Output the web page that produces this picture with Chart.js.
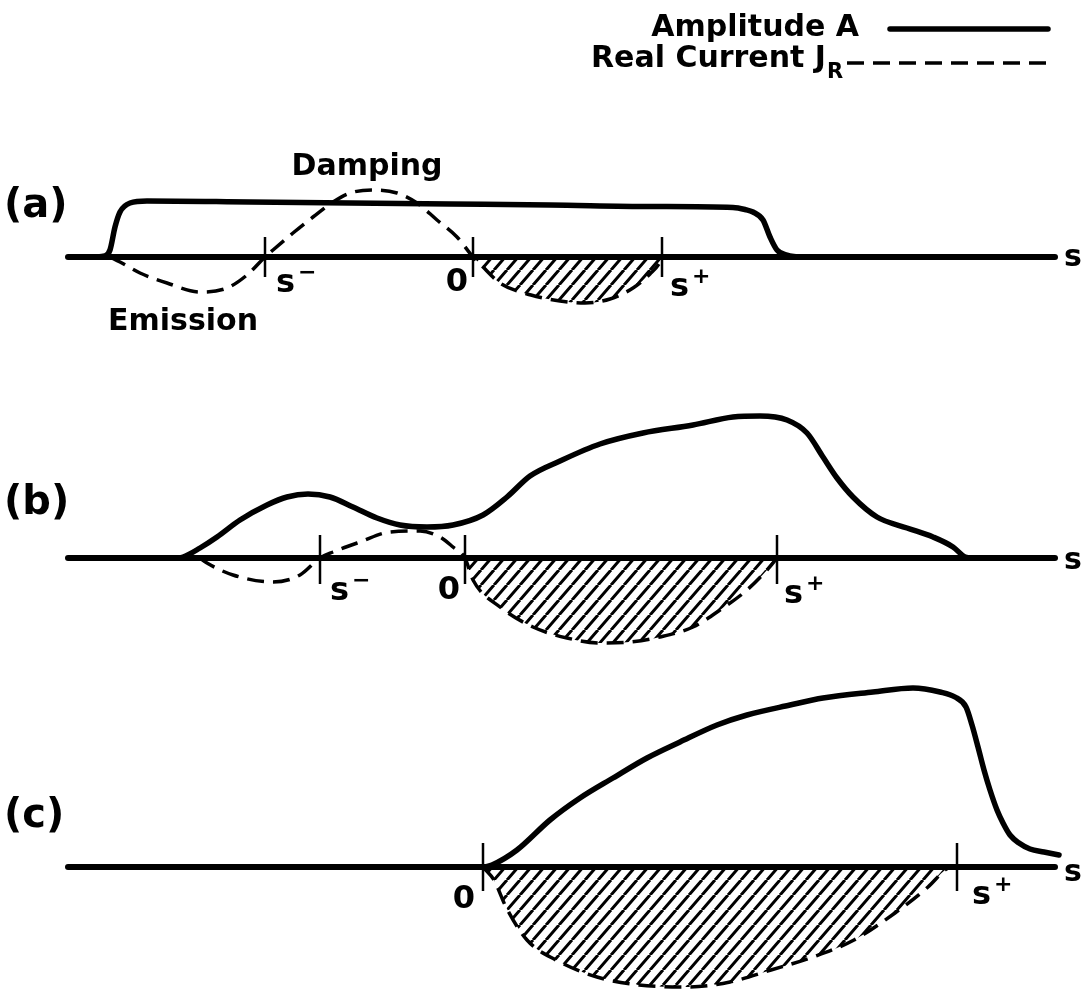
<!DOCTYPE html>
<html>
<head>
<meta charset="utf-8">
<script src="https://cdn.jsdelivr.net/npm/chart.js@4.4.0/dist/chart.umd.min.js"></script>
<style>
  html, body { margin: 0; padding: 0; background: #fff; }
  #figure { position: relative; width: 1089px; height: 989px; }
  #figure canvas { position: absolute; left: 0; }
</style>
</head>
<body>
<div id="figure">
  <canvas id="panel-a" width="1089" height="345" style="top:0px"></canvas>
  <canvas id="panel-b" width="1089" height="310" style="top:345px"></canvas>
  <canvas id="panel-c" width="1089" height="334" style="top:655px"></canvas>
</div>
<script>
// s axis extent (same for all three panels)
const axisStart = 68;
const axisEnd = 1055;

// (a) flat amplitude, current changes sign twice
const ampA_s = [95, 105, 110, 115, 120, 130, 147, 250, 350, 450, 550, 650, 733, 745, 753, 763, 770, 777, 787, 797];
const ampA   = [0, 1, 7, 30, 45, 54, 56, 55, 54, 53, 52, 50.5, 49.5, 47.5, 45, 37, 20, 7, 2, 0];
const curA_s = [110, 120, 140, 167, 200, 227, 247, 265, 273, 293, 313, 333, 350, 373, 397, 417, 437, 457, 473, 481, 500, 531, 560, 585, 610, 633, 650, 660, 662];
const curA   = [0, -5, -16, -26, -35, -31, -18, 0, 7, 24, 40, 55, 64, 67, 64, 54, 37, 20, 0, -8, -26, -38, -44, -46, -42, -31, -17, -5, 0];
const ticksA = [265, 473, 662];

// (b) amplitude grows on the emission side
const ampB_s = [175, 183, 200, 217, 240, 267, 287, 308, 330, 353, 377, 400, 427, 453, 483, 507, 530, 560, 600, 643, 693, 733, 760, 787, 807, 823, 837, 853, 877, 907, 933, 953, 965, 970];
const ampB   = [0, 1, 10, 21, 38, 53, 61, 64, 61, 51, 40, 33, 31, 33, 43, 61, 82, 97, 114, 125, 133, 141, 142, 138, 125, 101, 80, 61, 41, 30, 21, 11, 1, 0];
const curB_s = [200, 207, 233, 273, 300, 320, 333, 360, 390, 420, 440, 453, 465, 473, 500, 533, 567, 600, 630, 660, 693, 720, 747, 767, 777];
const curB   = [0, -5, -17, -24, -17, 0, 6, 16, 26, 27, 21, 11, 0, -22, -49, -69, -80, -85, -84, -79, -69, -52, -32, -12, 0];
const ticksB = [320, 465, 777];

// (c) only emission left
const ampC_s = [485, 492, 517, 550, 580, 613, 647, 680, 717, 747, 790, 823, 873, 913, 940, 955, 966, 972, 978, 984, 990, 997, 1003, 1010, 1019, 1030, 1044, 1059];
const ampC   = [0, 2, 17, 47, 69, 89, 109, 125, 142, 152, 162, 169, 175, 179, 175, 170, 160, 142, 120, 97, 77, 57, 44, 32, 24, 18, 15, 12];
const curC_s = [483, 494, 506, 527, 556, 597, 639, 688, 730, 771, 813, 854, 895, 928, 945, 950];
const curC   = [0, -13, -40, -73, -93, -110, -118, -120, -115, -103, -90, -73, -46, -20, -3, 0];
const ticksC = [483, 957];

const tickTextAB = [['s', '\u2212'], ['0', ''], ['s', '+']];
const tickTextC  = [['0', ''], ['s', '+']];

const INK = '#000';
const FONT = '"DejaVu Sans", sans-serif';

function pts(xs, ys) {
  return xs.map((v, i) => ({ x: v, y: ys[i] }));
}

// diagonal "////" fill for the damping lobe
function hatch(canvas) {
  const w = 13, h = 15;
  const tile = document.createElement('canvas');
  tile.width = w; tile.height = h;
  const g = tile.getContext('2d');
  g.strokeStyle = INK;
  g.lineWidth = 3;
  g.beginPath();
  for (const dx of [-w, 0, w]) { g.moveTo(dx, h); g.lineTo(dx + w, 0); }
  g.stroke();
  return canvas.getContext('2d').createPattern(tile, 'repeat');
}

function drawScript(ctx, base, sup, x, y, align) {
  ctx.textAlign = 'left';
  ctx.textBaseline = 'middle';
  ctx.font = 'bold 32px ' + FONT;
  const bw = ctx.measureText(base).width;
  ctx.font = 'bold 22px ' + FONT;
  const sw = sup ? ctx.measureText(sup).width + 3 : 0;
  const left = align === 'right' ? x - bw - sw : x;
  ctx.font = 'bold 32px ' + FONT;
  ctx.fillText(base, left, y);
  if (sup) {
    ctx.font = 'bold 22px ' + FONT;
    ctx.fillText(sup, left + bw + 3, y - 11);
  }
}

const panelText = {
  id: 'panelText',
  afterDatasetsDraw(chart, args, o) {
    const { ctx } = chart;
    const xs = chart.scales.x, ys = chart.scales.y;
    const y0 = ys.getPixelForValue(0);
    ctx.save();
    ctx.fillStyle = INK;

    ctx.font = 'bold 40px ' + FONT;
    ctx.textAlign = 'left';
    ctx.textBaseline = 'middle';
    ctx.fillText(o.letter, 4, y0 + o.letterDy);

    ctx.font = 'bold 30px ' + FONT;
    ctx.fillText('s', xs.getPixelForValue(axisEnd) + 9, y0 + o.axisDy);

    o.ticks.forEach((t, i) => {
      const [base, sup] = o.tickText[i];
      const [dx, dy, align] = o.tickPlace[i];
      drawScript(ctx, base, sup, xs.getPixelForValue(t) + dx, y0 + dy, align);
    });

    (o.notes || []).forEach(n => {
      ctx.font = 'bold 30px ' + FONT;
      ctx.textAlign = 'center';
      ctx.textBaseline = 'middle';
      ctx.fillText(n.text, xs.getPixelForValue(n.s), ys.getPixelForValue(n.v));
    });

    if (o.key) {
      ctx.font = 'bold 30px ' + FONT;
      ctx.textAlign = 'right';
      ctx.textBaseline = 'alphabetic';
      ctx.fillText('Amplitude A', 859, 36);
      ctx.fillText('Real Current J', 826, 67);
      ctx.font = 'bold 21px ' + FONT;
      ctx.textAlign = 'left';
      ctx.fillText('R', 827, 78);

      ctx.strokeStyle = INK;
      ctx.lineCap = 'round';
      ctx.lineWidth = 5.5;
      ctx.beginPath(); ctx.moveTo(890, 29); ctx.lineTo(1048, 29); ctx.stroke();
      ctx.lineWidth = 3.5;
      ctx.lineCap = 'butt';
      ctx.setLineDash([17, 9]);
      ctx.beginPath(); ctx.moveTo(847, 63); ctx.lineTo(1050, 63); ctx.stroke();
    }
    ctx.restore();
  }
};

function makePanel(id, cfg) {
  const canvas = document.getElementById(id);
  const zero = cfg.ticks[cfg.ticks.length - 2];
  const sPlus = cfg.ticks[cfg.ticks.length - 1];
  const cur = pts(cfg.curS, cfg.cur);
  const lobe = cur.filter(p => p.x >= zero && p.x <= sPlus);

  const datasets = [
    { data: lobe, borderWidth: 0, fill: 'origin', backgroundColor: hatch(canvas) },
    { data: cur, borderWidth: 3.5, borderDash: [17, 9], borderCapStyle: 'butt', fill: false },
    { data: pts(cfg.ampS, cfg.amp), borderWidth: 5.5, fill: false },
    { data: [{ x: axisStart, y: 0 }, { x: axisEnd, y: 0 }], borderWidth: 6, fill: false }
  ];
  cfg.ticks.forEach(t => {
    datasets.push({ data: [{ x: t, y: cfg.tickSpan[0] }, { x: t, y: -cfg.tickSpan[1] }], borderWidth: 2.5, borderCapStyle: 'butt', fill: false });
  });

  return new Chart(canvas, {
    type: 'line',
    data: { datasets },
    plugins: [panelText],
    options: {
      responsive: false,
      animation: false,
      devicePixelRatio: 1,
      events: [],
      layout: { padding: 0, autoPadding: false },
      scales: {
        x: { type: 'linear', min: 0, max: 1089, display: false },
        y: { type: 'linear', min: cfg.yMin, max: cfg.yMax, display: false }
      },
      elements: {
        point: { radius: 0 },
        line: { borderColor: INK, cubicInterpolationMode: 'monotone', borderJoinStyle: 'round', borderCapStyle: 'round' }
      },
      plugins: {
        legend: { display: false },
        tooltip: { enabled: false },
        panelText: cfg.text
      }
    }
  });
}

makePanel('panel-a', {
  ampS: ampA_s, amp: ampA, curS: curA_s, cur: curA, ticks: ticksA,
  yMin: -88, yMax: 257, tickSpan: [20, 20],
  text: {
    letter: '(a)', letterDy: -50, axisDy: 1, key: true,
    ticks: ticksA, tickText: tickTextAB,
    tickPlace: [[11, 27, 'left'], [-5, 26, 'right'], [8, 31, 'left']],
    notes: [{ text: 'Damping', s: 367, v: 90 }, { text: 'Emission', s: 183, v: -65 }]
  }
});

makePanel('panel-b', {
  ampS: ampB_s, amp: ampB, curS: curB_s, cur: curB, ticks: ticksB,
  yMin: -97, yMax: 213, tickSpan: [23, 26],
  text: {
    letter: '(b)', letterDy: -54, axisDy: 3,
    ticks: ticksB, tickText: tickTextAB,
    tickPlace: [[10, 34, 'left'], [-5, 33, 'right'], [7, 37, 'left']]
  }
});

makePanel('panel-c', {
  ampS: ampC_s, amp: ampC, curS: curC_s, cur: curC, ticks: ticksC,
  yMin: -122, yMax: 212, tickSpan: [24, 24],
  text: {
    letter: '(c)', letterDy: -50, axisDy: 6,
    ticks: ticksC, tickText: tickTextC,
    tickPlace: [[-8, 33, 'right'], [15, 29, 'left']]
  }
});
</script>
</body>
</html>
